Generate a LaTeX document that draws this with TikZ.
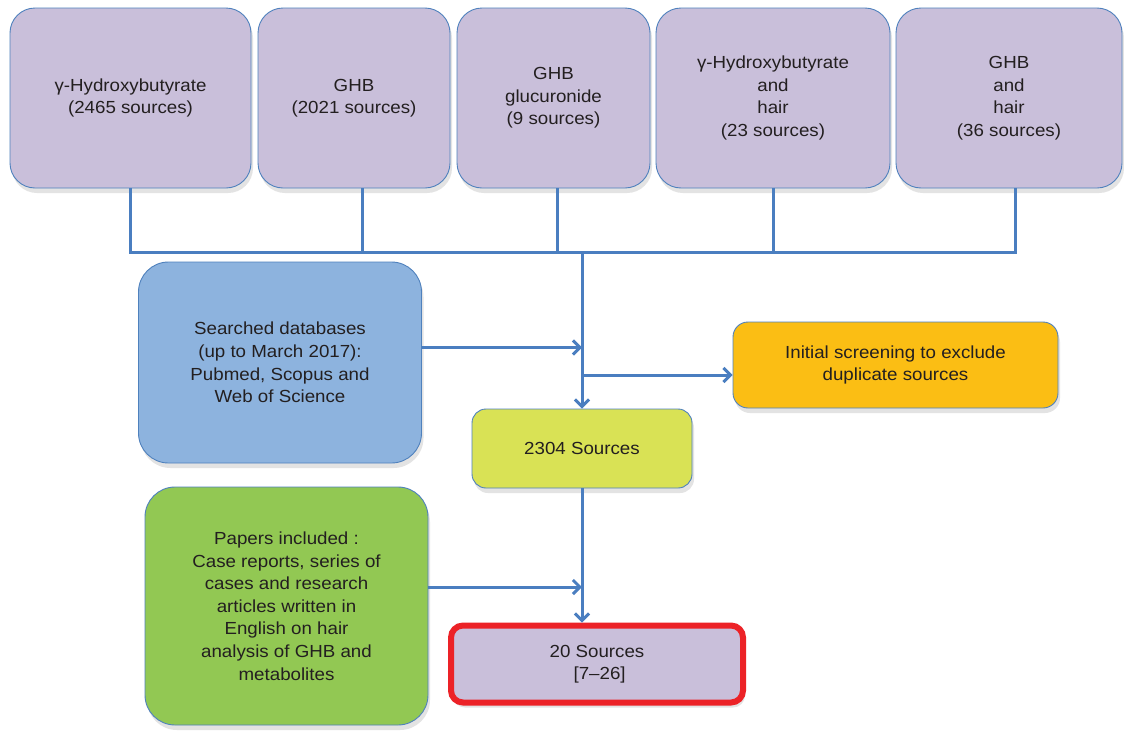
\documentclass[tikz,border=0pt]{standalone}
\usepackage{fontspec}
\setmainfont{Liberation Sans}[FakeStretch=1.07]
\usetikzlibrary{arrows.meta,shadows}
\definecolor{lav}{HTML}{C9BFDA}
\definecolor{bluebox}{HTML}{8DB3DE}
\definecolor{lime}{HTML}{D9E255}
\definecolor{orng}{HTML}{FBBE14}
\definecolor{grn}{HTML}{92C853}
\definecolor{redb}{HTML}{EC2227}
\definecolor{edge}{HTML}{4F81BD}
\definecolor{conn}{HTML}{4A7EC0}
\definecolor{txt}{HTML}{231F20}
\begin{document}
\begin{tikzpicture}[x=1pt,y=-1pt,
  box/.style={draw=edge, line width=0.9pt, align=center, text=txt,
    font=\fontsize{17.5}{22.6}\selectfont, inner sep=0pt,
    drop shadow={opacity=0.22, shadow xshift=2pt, shadow yshift=-5pt}},
  topbox/.style={box, fill=lav, rounded corners=25pt, minimum height=180pt},
  line/.style={conn, line width=3pt},
  arr/.style={line, -{Straight Barb[length=7pt,width=14pt,line width=3pt]}}]
\useasboundingbox (0,0) rectangle (1124,731);
\fill[white] (0,0) rectangle (1124,731);

\node[topbox, minimum width=241pt] (b1) at (130.5,98) {γ-Hydroxybutyrate\\(2465 sources)};
\node[topbox, minimum width=192pt] (b2) at (354,98) {GHB\\(2021 sources)};
\node[topbox, minimum width=193pt] (b3) at (553.5,98) {GHB\\glucuronide\\(9 sources)};
\node[topbox, minimum width=234pt] (b4) at (773,98) {γ-Hydroxybutyrate\\and\\hair\\(23 sources)};
\node[topbox, minimum width=226pt] (b5) at (1009,98) {GHB\\and\\hair\\(36 sources)};

\node[box, fill=bluebox, rounded corners=30pt, minimum width=283pt, minimum height=201pt] (search) at (280,362.5)
  {Searched databases\\(up to March 2017):\\Pubmed, Scopus and\\Web of Science};
\node[box, fill=orng, rounded corners=15pt, minimum width=325pt, minimum height=86pt] (orange) at (895.5,365)
  {Initial screening to exclude\\duplicate sources};
\node[box, fill=lime, rounded corners=14pt, minimum width=220pt, minimum height=79pt] (n2304) at (582,448.5)
  {2304 Sources};
\node[box, fill=grn, rounded corners=30pt, minimum width=283pt, minimum height=238pt] (green) at (286.5,606)
  {Papers included :\\Case reports, series of\\cases and research\\articles written in\\English on hair\\analysis of GHB and\\metabolites};
\node[box, draw=redb, line width=6pt, fill=lav, rounded corners=12pt, minimum width=292pt, minimum height=77pt] (final) at (597,664)
  {20 Sources\\\ [7–26]};

\coordinate (bus) at (0,252);
\draw[line] (b1.south) -- (b1.south |- bus) -- ([xshift=6pt]b5.south |- bus) -- ([xshift=6pt]b5.south);
\draw[line] ([xshift=8pt]b2.south) -- ([xshift=8pt]b2.south |- bus);
\draw[line] ([xshift=4pt]b3.south) -- ([xshift=4pt]b3.south |- bus);
\draw[line] (b4.south) -- (b4.south |- bus);
\draw[arr] (n2304.north |- bus) -- (n2304.north);
\draw[arr] ([yshift=15pt]search.east) -- ([yshift=15pt]search.east -| n2304.north);
\coordinate (oa) at ([yshift=-10pt]orange.west);
\draw[arr] (oa -| n2304.north) -- (oa);
\draw[arr] (n2304.south) -- (n2304.south |- final.north);
\draw[arr] ([yshift=19pt]green.east) -- ([yshift=19pt]green.east -| n2304.south);
\end{tikzpicture}
\end{document}
